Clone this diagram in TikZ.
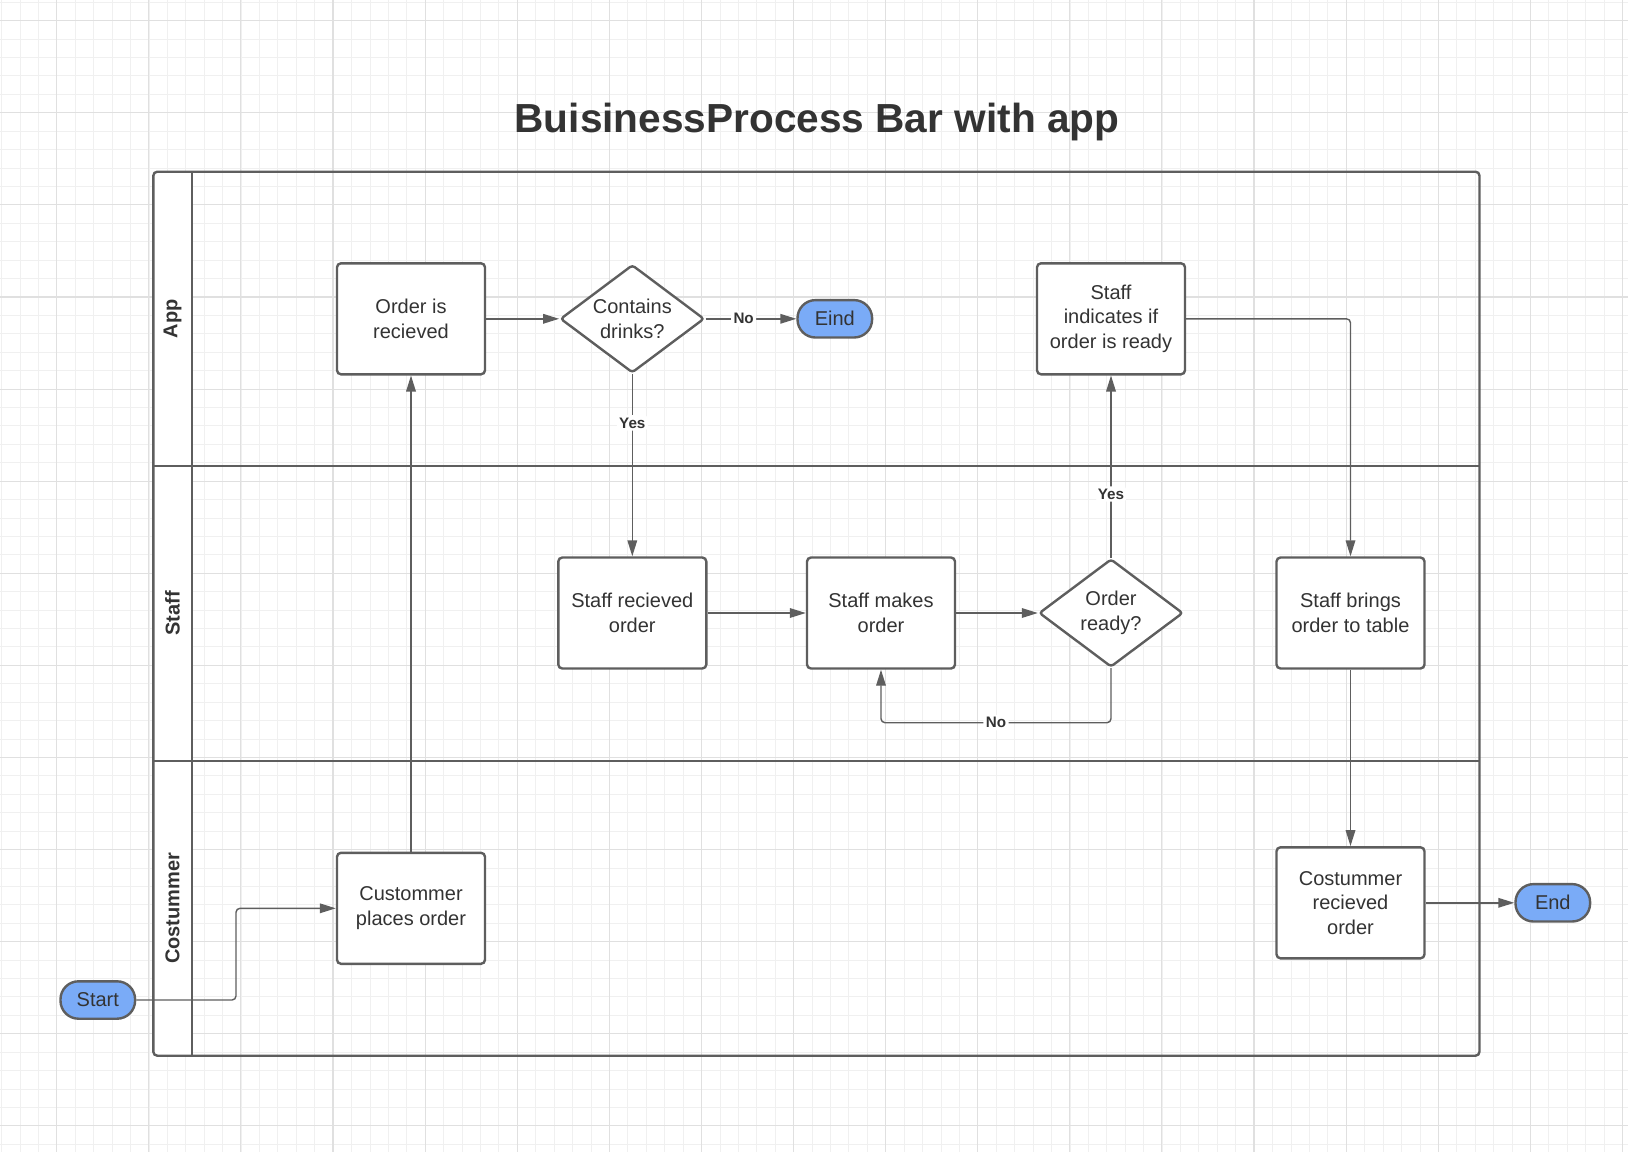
\documentclass[tikz,border=0pt]{standalone}
\usepackage{fontspec}
\setmainfont{Liberation Sans}
\usetikzlibrary{shapes.geometric,arrows.meta}

\definecolor{lineC}{HTML}{5E5E5E}
\definecolor{textC}{HTML}{333333}
\definecolor{termC}{HTML}{7AABF7}
\definecolor{gridMinor}{HTML}{F0F0F0}
\definecolor{gridMajor}{HTML}{E0E0E0}

\begin{document}
\begin{tikzpicture}[x=0.5pt, y=-0.5pt,
  every node/.style={font=\fontsize{10}{12.3}\selectfont, text=textC},
  proc/.style={draw=lineC, line width=1.2pt, fill=white, rounded corners=2pt,
    minimum width=74pt, minimum height=55.5pt, align=center, inner sep=2pt},
  decision/.style={draw=lineC, line width=1.2pt, fill=white, shape=diamond,
    aspect=1.333, minimum width=72pt, minimum height=54pt, align=center,
    inner sep=0pt, rounded corners=1.5pt},
  terminal/.style={draw=lineC, line width=1.2pt, fill=termC, rounded corners=9pt,
    minimum width=37.3pt, minimum height=18.7pt, inner sep=0pt},
  lanelabel/.style={font=\bfseries\fontsize{10}{12}\selectfont, rotate=90},
  flow/.style={draw=lineC, line width=0.7pt, rounded corners=2pt,
    -{Triangle[length=8pt,width=4.8pt]}},
  cond/.style={font=\bfseries\fontsize{7.6}{9}\selectfont, fill=white, inner sep=1.2pt}
]
\useasboundingbox (0,0) rectangle (1628,1152);

% --------- Background grid ----------
\foreach \i in {0,...,88}
  \draw[gridMinor, line width=0.5pt] ({1.65+18.42*\i},0) -- ({1.65+18.42*\i},1152);
\foreach \j in {0,...,62}
  \draw[gridMinor, line width=0.5pt] (0,{2.28+18.42*\j}) -- (1628,{2.28+18.42*\j});
\foreach \i in {0,...,17}
  \draw[gridMajor, line width=0.55pt] ({56.7+92.1*\i},0) -- ({56.7+92.1*\i},1152);
\foreach \j in {0,...,12}
  \draw[gridMajor, line width=0.55pt] (0,{20.7+92.1*\j}) -- (1628,{20.7+92.1*\j});

% --------- Title ----------
\node[font=\bfseries\fontsize{20.3}{24}\selectfont, anchor=base] (title) at (817,132.7)
  {BuisinessProcess Bar with app};

% --------- Pool and lanes ----------
\coordinate (poolNW) at (153.3,171.7);
\coordinate (poolSE) at (1479.5,1055.7);
\fill[white, rounded corners=2pt] (poolNW) rectangle (191.7,1055.7);  % header strip
\draw[lineC, line width=1.2pt, rounded corners=2pt] (poolNW) rectangle (poolSE);
\draw[lineC, line width=1.2pt] (191.7,171.7) -- (191.7,1055.7);
\draw[lineC, line width=1.2pt] (153.3,466) -- (1479.5,466);
\draw[lineC, line width=1.2pt] (153.3,760.7) -- (1479.5,760.7);

\node[lanelabel] (laneApp)   at (172.5,318.9) {App};
\node[lanelabel] (laneStaff) at (172.5,613.4) {Staff};
\node[lanelabel] (laneCust)  at (172.5,908.2) {Costummer};

% --------- App lane ----------
\node[proc]     (orderrec) at (411,318.8)   {Order is\\recieved};
\node[decision] (drinks)   at (632.3,318.8) {Contains\\drinks?};
\node[terminal] (eind)     at (834.8,318.8) {Eind};
\node[proc]     (staffind) at (1111,318.8)  {Staff\\indicates if\\order is ready};

% --------- Staff lane ----------
\node[proc]     (staffrec)  at (632.3,613) {Staff recieved\\order};
\node[proc]     (staffmake) at (881,613)   {Staff makes\\order};
\node[decision] (ready)     at (1111,613)  {Order\\ready?};
\node[proc]     (bring)     at (1350.5,613) {Staff brings\\order to table};

% --------- Costummer lane ----------
\node[proc]     (custplace) at (411,908.3)    {Custommer\\places order};
\node[proc]     (custrec)   at (1350.5,902.8) {Costummer\\recieved\\order};
\node[terminal] (start)     at (97.8,1000)    {Start};
\node[terminal] (finish)    at (1552.8,902.8) {End};

% --------- Flow connectors ----------
\coordinate (startBend) at (236,1000);
\draw[flow] (start) -- (startBend) |- (custplace);
\draw[flow] (custplace) -- (orderrec);
\draw[flow] (orderrec) -- (drinks);
\draw[flow] (drinks) -- node[cond, pos=0.42] {No} (eind);
\draw[flow] (drinks) -- node[cond, pos=0.268] {Yes} (staffrec);
\draw[flow] (staffrec) -- (staffmake);
\draw[flow] (staffmake) -- (ready);
\coordinate (loopCorner) at (1111,722.7);
\draw[flow] (ready) -- (loopCorner) -| node[cond, pos=0.25] {No} (staffmake);
\draw[flow] (ready) -- node[cond, pos=0.35] {Yes} (staffind);
\draw[flow] (staffind) -| (bring);
\draw[flow] (bring) -- (custrec);
\draw[flow] (custrec) -- (finish);

\end{tikzpicture}
\end{document}
